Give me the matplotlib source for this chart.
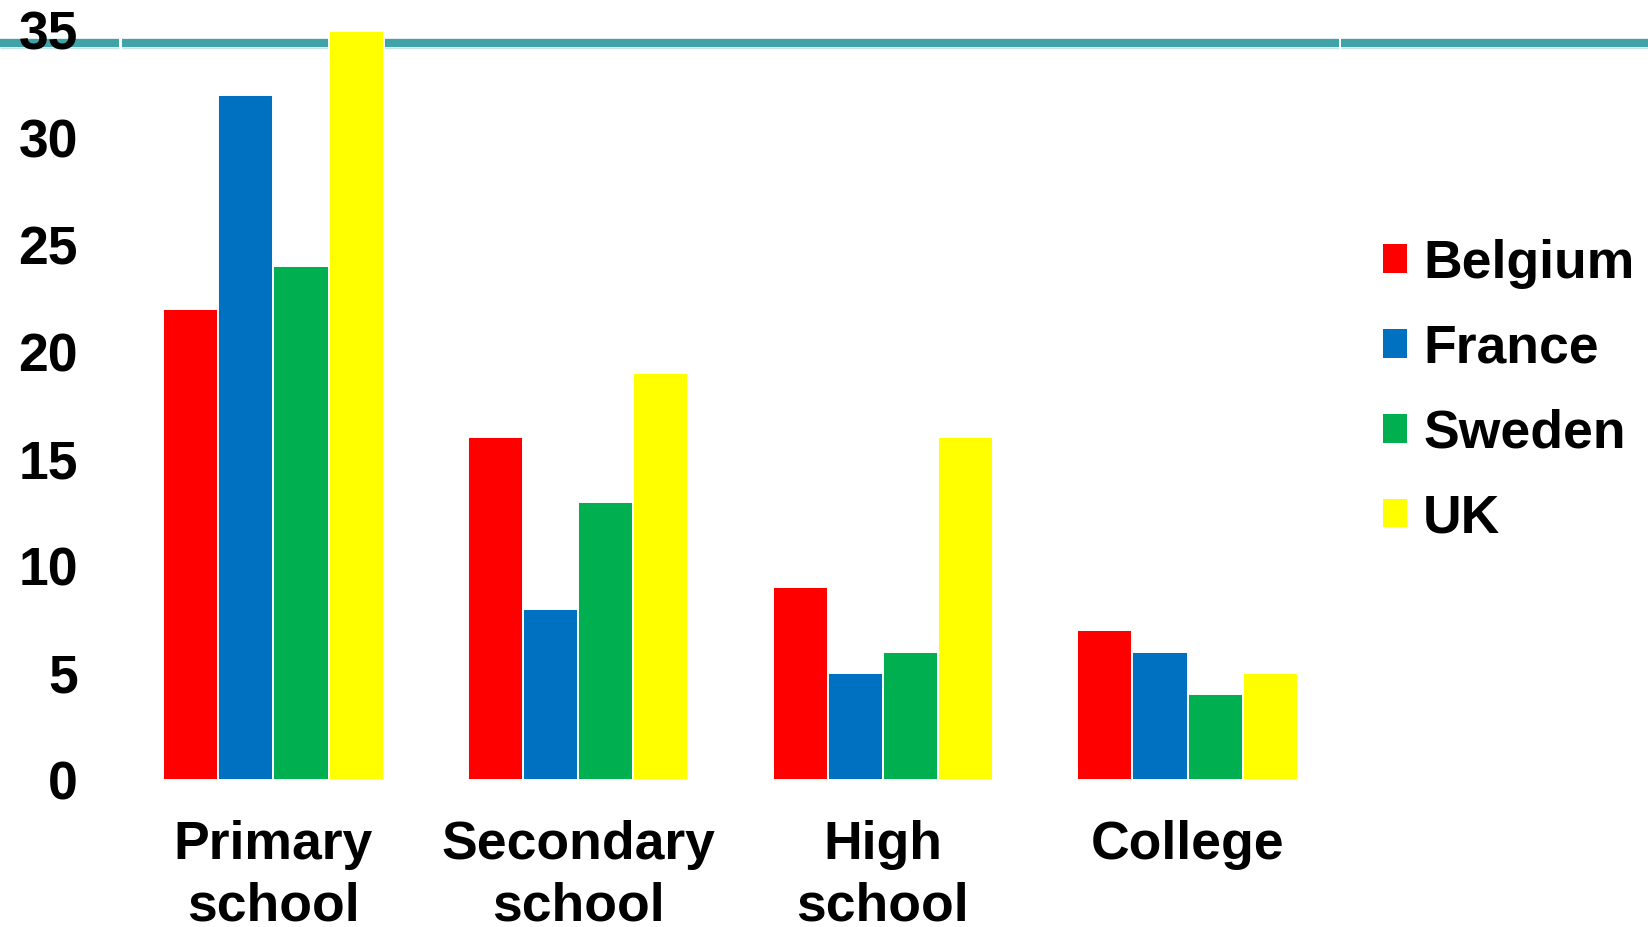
import numpy as np
import matplotlib
matplotlib.use("Agg")
import matplotlib.pyplot as plt
from matplotlib.lines import Line2D
from matplotlib.patches import Patch

plt.rcParams["font.family"] = ["Liberation Sans", "DejaVu Sans"]
plt.rcParams["font.weight"] = "bold"

CATEGORIES = ["Primary\nschool", "Secondary\nschool", "High\nschool", "College"]
COUNTRIES  = ["Belgium", "France", "Sweden", "UK"]
BELGIUM = [22, 16, 9, 7]
FRANCE  = [32, 8, 5, 6]
SWEDEN  = [24, 13, 6, 4]
UK      = [35, 19, 16, 5]
Y_TICKS = [0, 5, 10, 15, 20, 25, 30, 35]

COLOURS = ["#FF0000", "#0070C0", "#00B050", "#FFFF00"]
TEAL = "#41A2A8"
FS = 38.5

W, H = 1648, 927
fig = plt.figure(figsize=(W / 100, H / 100), dpi=100)
ax = fig.add_axes([121 / W, 1 - 780 / H, (1340 - 121) / W, (780 - 30.5) / H])
ax.patch.set_facecolor("none")

# decorative teal rule across the top (behind the axes)
y_rule = 1 - 42.5 / H
for x0, x1 in [(0, 119.5), (122, 1338.5), (1341, W)]:
    fig.add_artist(Line2D([x0 / W, x1 / W], [y_rule, y_rule], transform=fig.transFigure,
                          color=TEAL, linewidth=6.0, solid_capstyle="butt", zorder=-2))
    fig.add_artist(Line2D([x0 / W, x1 / W], [1 - 47.8 / H] * 2, transform=fig.transFigure,
                          color="#C4E6E8", linewidth=1.0, solid_capstyle="butt", zorder=-2))

x = np.arange(len(CATEGORIES))
width = 0.181
series = [BELGIUM, FRANCE, SWEDEN, UK]
for i, (vals, colour) in enumerate(zip(series, COLOURS)):
    ax.bar(x + (i - 1.5) * width, vals, width, color=colour,
           edgecolor="white", linewidth=1.4, zorder=3)

ax.set_xlim(-0.5, len(CATEGORIES) - 0.5)
ax.set_ylim(0, 35)
ax.set_yticks(Y_TICKS)
ax.set_xticks(x)
ax.set_xticklabels(CATEGORIES, fontsize=FS, fontweight="bold", linespacing=1.3)
ax.tick_params(axis="y", length=0, pad=31, labelsize=FS)
ax.tick_params(axis="x", length=0, pad=29)
for lbl in ax.get_yticklabels():
    lbl.set_fontweight("bold")
for s in ax.spines.values():
    s.set_visible(False)

handles = [Patch(facecolor=c, edgecolor="none") for c in COLOURS]
fig.legend(handles, COUNTRIES, loc="center left", bbox_to_anchor=(1383 / W, 1 - 391 / H),
           frameon=False, handlelength=0.45, handleheight=0.45,
           handletextpad=0.3, labelspacing=0.65, borderpad=0, borderaxespad=0,
           prop={"weight": "bold", "size": FS})

fig.savefig("out.png", dpi=100)
